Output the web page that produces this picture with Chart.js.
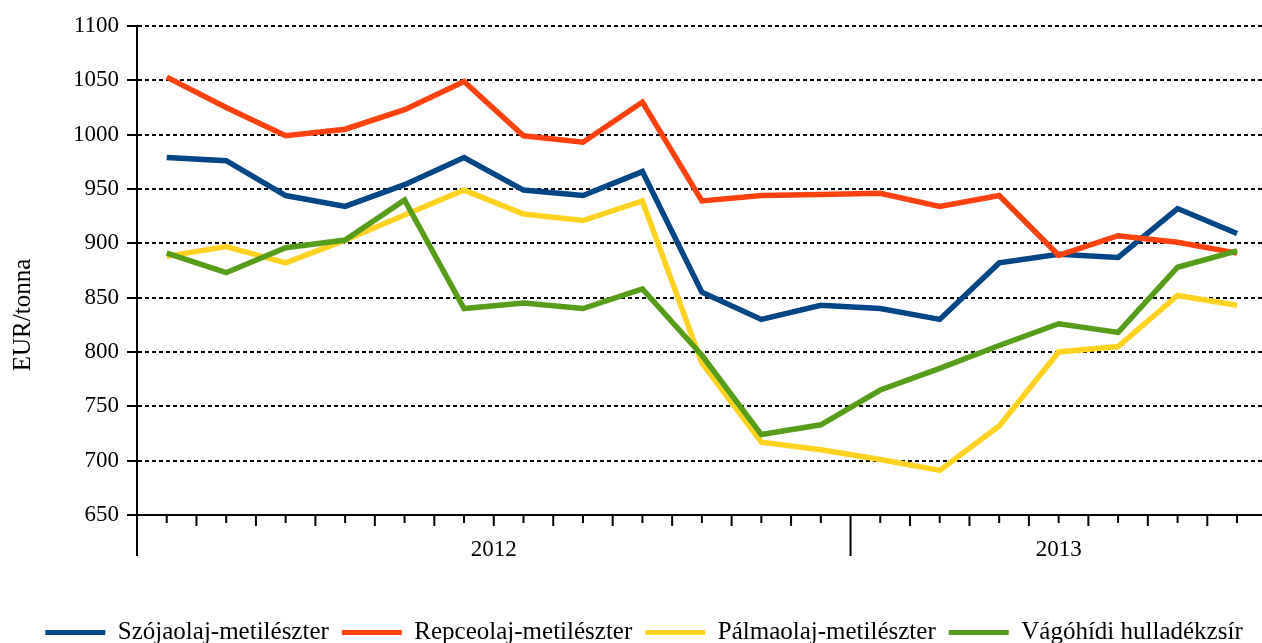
<!DOCTYPE html>
<html>
<head>
<meta charset="utf-8">
<script src="https://cdn.jsdelivr.net/npm/chart.js@4/dist/chart.umd.min.js"></script>
<style>
html,body{margin:0;padding:0;background:#fff;overflow:hidden;width:1262px;height:643px}
#wrap{position:absolute;left:0;top:0;width:1262px;height:655px}
</style>
</head>
<body>
<div id="wrap"><canvas id="c" width="1262" height="655"></canvas></div>
<script>
// ---- data ----
const months = ['2012-01','2012-02','2012-03','2012-04','2012-05','2012-06','2012-07','2012-08','2012-09','2012-10','2012-11','2012-12',
                '2013-01','2013-02','2013-03','2013-04','2013-05','2013-06','2013-07'];
const seriesNames = ['Szójaolaj-metilészter','Repceolaj-metilészter','Pálmaolaj-metilészter','Vágóhídi hulladékzsír'];
const szoja = [979, 976, 944, 934, 954, 979, 949, 944, 966, 855, 830, 843, 840, 830, 882, 890, 887, 932, 909];
const repce = [1053, 1025, 999, 1005, 1023, 1049, 999, 993, 1030, 939, 944, 945, 946, 934, 944, 889, 907, 901, 891];
const palma = [888, 897, 882, 903, 926, 949, 927, 921, 939, 790, 717, 710, 701, 691, 732, 800, 805, 852, 843];
const vago  = [891, 873, 896, 903, 940, 840, 845, 840, 858, 797, 724, 733, 765, 785, 806, 826, 818, 878, 893];
const yTicks = [650, 700, 750, 800, 850, 900, 950, 1000, 1050, 1100];
const yTitle = 'EUR/tonna';
const colors = ['#004586', '#ff420e', '#ffd320', '#579d1c'];

// ---- derived ----
const years = [];
const yearStart = {};
const yearCount = {};
months.forEach((m, i) => {
  const y = m.slice(0, 4);
  if (!(y in yearStart)) { years.push(y); yearStart[y] = i; yearCount[y] = 0; }
  yearCount[y]++;
});
const yearBoundaries = years.map(y => yearStart[y]);
const yearCenters = {};
years.forEach(y => { yearCenters[yearStart[y] + yearCount[y] / 2] = y; });

const toPoints = arr => arr.map((v, i) => ({x: i + 0.5, y: v}));
const FONT = 'Liberation Serif';

const xTickPlugin = {
  id: 'xticks',
  afterDraw(chart) {
    const s = chart.scales.x, ctx = chart.ctx, a = chart.chartArea;
    ctx.save();
    ctx.strokeStyle = '#000';
    ctx.lineWidth = 2;
    s.ticks.forEach(t => {
      const v = t.value;
      let len = Number.isInteger(v) ? 11 : 8;
      if (yearBoundaries.includes(v)) len = 41;
      const x = s.getPixelForValue(v);
      ctx.beginPath();
      ctx.moveTo(x, a.bottom);
      ctx.lineTo(x, a.bottom + len);
      ctx.stroke();
    });
    // y title
    ctx.translate(23, 315);
    ctx.rotate(-Math.PI / 2);
    ctx.fillStyle = '#000';
    ctx.font = '25px "' + FONT + '"';
    ctx.textAlign = 'center';
    ctx.textBaseline = 'middle';
    ctx.fillText(yTitle, 0, 0);
    ctx.restore();
  }
};

const datasets = [szoja, repce, palma, vago].map((arr, i) => ({
  label: seriesNames[i],
  data: toPoints(arr),
  borderColor: colors[i],
  backgroundColor: colors[i],
  borderWidth: 5.5,
  pointRadius: 0,
  tension: 0,
  order: 4 - i
}));

new Chart(document.getElementById('c'), {
  type: 'line',
  data: { datasets },
  plugins: [xTickPlugin],
  options: {
    responsive: false,
    animation: false,
    devicePixelRatio: 1,
    layout: { padding: { top: 26, left: 26, right: 0, bottom: 0 } },
    plugins: {
      tooltip: { enabled: false },
      legend: {
        position: 'bottom',
        labels: {
          boxWidth: 60,
          boxHeight: 5,
          padding: 13,
          color: '#000',
          font: { family: FONT, size: 25 },
          sort: (a, b) => a.datasetIndex - b.datasetIndex,
          generateLabels: (chart) => Chart.defaults.plugins.legend.labels.generateLabels(chart)
            .map(l => Object.assign(l, { lineWidth: 0, fillStyle: l.strokeStyle }))
        }
      }
    },
    scales: {
      x: {
        type: 'linear',
        min: 0,
        max: months.length - 0.08,
        afterBuildTicks: (scale) => {
          const t = [];
          for (let v = 0; v <= scale.max + 1e-9; v += 0.5) t.push({ value: v });
          scale.ticks = t;
        },
        afterFit: (scale) => { scale.height = 92; },
        grid: { display: false, drawTicks: false },
        border: { display: true, color: '#000', width: 2 },
        ticks: {
          autoSkip: false,
          maxRotation: 0,
          padding: 21,
          color: '#000',
          font: { family: FONT, size: 23 },
          callback: (v) => yearCenters[v] || ''
        }
      },
      y: {
        min: 650,
        max: 1100,
        afterBuildTicks: (scale) => { scale.ticks = yTicks.map(v => ({ value: v })); },
        afterFit: (scale) => { scale.width = 111; },
        grid: { color: '#000', lineWidth: 2, tickLength: 10, tickColor: '#000', tickWidth: 2 },
        border: { display: true, color: '#000', width: 2, dash: [4, 3] },
        ticks: {
          padding: 8,
          color: '#000',
          font: { family: FONT, size: 23 },
          callback: (v) => String(v)
        }
      }
    }
  }
});
</script>
</body>
</html>
